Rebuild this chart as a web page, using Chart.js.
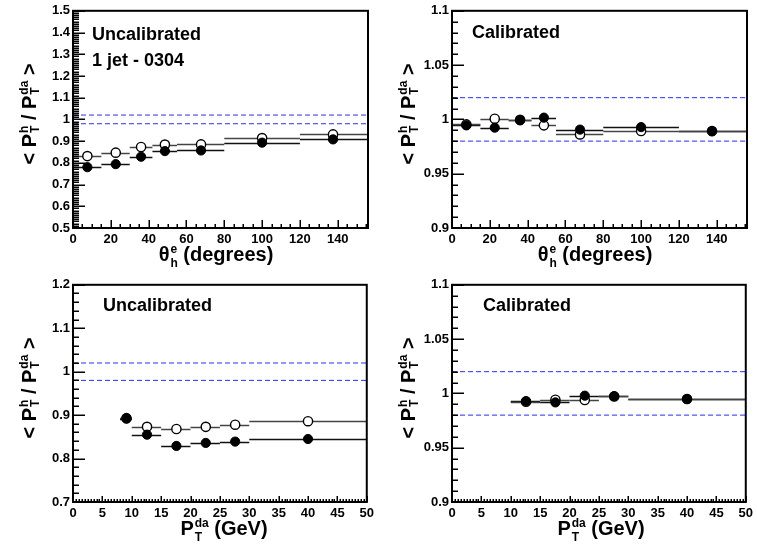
<!DOCTYPE html>
<html lang="en">
<head>
<meta charset="UTF-8">
<title>Transverse momentum balance</title>
<script src="https://cdn.jsdelivr.net/npm/chart.js"></script>
<style>
  body { margin: 0; background: #fff; }
  #wrap { position: relative; width: 757px; height: 548px; }
  .panel { position: absolute; width: 378px; height: 274px; }
</style>
</head>
<body>
<div id="wrap">
  <div class="panel" style="left:0;top:0"><canvas id="c1" width="378" height="274"></canvas></div>
  <div class="panel" style="left:379px;top:0"><canvas id="c2" width="378" height="274"></canvas></div>
  <div class="panel" style="left:0;top:274px"><canvas id="c3" width="378" height="274"></canvas></div>
  <div class="panel" style="left:379px;top:274px"><canvas id="c4" width="378" height="274"></canvas></div>
</div>
<script>
  // theta bins (degrees)
  const thetaLo  = [0, 15, 30, 42, 55, 80, 120];
  const thetaHi  = [15, 30, 42, 55, 80, 120, 156];
  const thetaMid = [7.6, 22.6, 36, 48.6, 67.7, 100, 137.5];
  const uncalThetaFull = [0.780, 0.794, 0.828, 0.854, 0.857, 0.893, 0.908];
  const uncalThetaOpen = [0.831, 0.847, 0.873, 0.884, 0.885, 0.914, 0.931];
  const calThetaFull   = [0.9945, 0.9924, 0.9991, 1.0016, 0.9906, 0.9929, 0.9890];
  const calThetaOpen   = [0.9954, 1.0006, 0.9997, 0.9945, 0.9862, 0.9893, 0.9893];

  // pt bins (GeV)
  const ptLo  = [8, 10, 15, 20, 25, 30];
  const ptHi  = [10, 15, 20, 25, 30, 50];
  const ptMid = [9.1, 12.6, 17.6, 22.6, 27.6, 40];
  const uncalPtFull = [0.892, 0.855, 0.829, 0.836, 0.839, 0.845];
  const uncalPtOpen = [0.893, 0.873, 0.868, 0.873, 0.878, 0.886];
  const calPtFull   = [null, 0.9929, 0.9917, 0.9979, 0.9975, 0.9948];
  const calPtOpen   = [null, 0.9923, 0.9942, 0.9939, 0.9972, 0.9948];

  const bandLines = [1.02, 0.98];

  const FONT = '"Liberation Sans", Arial, Helvetica, sans-serif';
  const yTitle = ['< P', ['h', 'T'], ' / P', ['da', 'T'], ' >'];
  const thetaTitle = ['\u03b8', ['e', 'h'], ' (degrees)'];
  const ptTitle = ['P', ['da', 'T'], ' (GeV)'];

  function points(mid, lo, hi, vals) {
    return vals.map((v, i) => v == null ? null : { x: mid[i], y: v, xMin: lo[i], xMax: hi[i] })
               .filter(p => p);
  }

  // horizontal bin-width bars, under the markers
  const hBars = {
    id: 'hBars',
    beforeDatasetsDraw(chart) {
      const { ctx, scales: { x, y } } = chart;
      ctx.save();
      ctx.lineWidth = 1.5;
      chart.data.datasets.forEach(ds => {
        if (!ds.bins) return;
        ctx.strokeStyle = ds.barColor;
        ds.data.forEach(p => {
          const py = Math.round(y.getPixelForValue(p.y)) + 0.5;
          ctx.beginPath();
          ctx.moveTo(x.getPixelForValue(p.xMin), py);
          ctx.lineTo(x.getPixelForValue(p.xMax), py);
          ctx.stroke();
        });
      });
      ctx.restore();
    }
  };

  function drawRich(ctx, parts, cx, base, size, supOff, subOff) {
    const small = Math.round(size * 0.62);
    const main = 'bold ' + size + 'px ' + FONT;
    const scr = 'bold ' + small + 'px ' + FONT;
    const widths = parts.map(p => {
      if (typeof p === 'string') { ctx.font = main; return ctx.measureText(p).width; }
      ctx.font = scr;
      return Math.max(ctx.measureText(p[0]).width, ctx.measureText(p[1]).width) + 1;
    });
    let xx = cx - widths.reduce((a, b) => a + b, 0) / 2;
    ctx.textAlign = 'left';
    ctx.textBaseline = 'alphabetic';
    parts.forEach((p, i) => {
      if (typeof p === 'string') {
        ctx.font = main;
        ctx.fillText(p, xx, base);
      } else {
        ctx.font = scr;
        ctx.fillText(p[0], xx + 1, base - supOff);
        ctx.fillText(p[1], xx + 1, base + subOff);
      }
      xx += widths[i];
    });
  }

  // ROOT style frame, inward ticks, titles and notes
  function makeDeco(cfg) {
    return {
      id: 'deco',
      afterDraw(chart) {
        const { ctx, chartArea: a, scales: { x, y } } = chart;
        ctx.save();
        ctx.strokeStyle = '#000';
        ctx.lineWidth = 1.5;
        const nx = Math.round((cfg.xMax - cfg.xMin) / cfg.xMinor);
        for (let i = 0; i <= nx; i++) {
          const v = cfg.xMin + i * cfg.xMinor;
          const r = v / cfg.xStep;
          const len = Math.abs(r - Math.round(r)) < 1e-6 ? cfg.xTick[0] : cfg.xTick[1];
          const px = Math.round(x.getPixelForValue(v)) + 0.25;
          ctx.beginPath(); ctx.moveTo(px, a.bottom); ctx.lineTo(px, a.bottom - len); ctx.stroke();
        }
        const ny = Math.round((cfg.yMax - cfg.yMin) / cfg.yMinor);
        for (let i = 0; i <= ny; i++) {
          const v = cfg.yMin + i * cfg.yMinor;
          const r = v / cfg.yStep;
          const len = Math.abs(r - Math.round(r)) < 1e-6 ? 12 : 6;
          const py = Math.round(y.getPixelForValue(v)) + 0.25;
          ctx.beginPath(); ctx.moveTo(a.left, py); ctx.lineTo(a.left + len, py); ctx.stroke();
        }
        ctx.lineWidth = 2;
        ctx.strokeRect(a.left, a.top, a.right - a.left, a.bottom - a.top);

        ctx.fillStyle = '#000';
        ctx.font = 'bold 18px ' + FONT;
        ctx.textAlign = 'left';
        cfg.notes.forEach(n => ctx.fillText(n.text, n.x, n.y));

        drawRich(ctx, cfg.xTitle, cfg.xTitleX, 261, 20, 8, 6);
        ctx.translate(36, 114);
        ctx.rotate(-Math.PI / 2);
        drawRich(ctx, yTitle, 0, 0, 20, 8, 3);
        ctx.restore();
      }
    };
  }

  function makePanel(id, cfg) {
    const tickFont = { family: FONT, size: 13, weight: 'bold' };
    const datasets = [
      { label: 'full', data: points(cfg.mid, cfg.lo, cfg.hi, cfg.full), bins: true, barColor: '#111',
        backgroundColor: '#000', borderColor: '#000', borderWidth: 1, pointRadius: 4.6 },
      { label: 'open', data: points(cfg.mid, cfg.lo, cfg.hi, cfg.open), bins: true, barColor: '#444',
        backgroundColor: '#fff', borderColor: '#000', borderWidth: 1.4, pointRadius: 4.6 }
    ];
    bandLines.forEach(v => datasets.push({
      type: 'line', data: [{ x: cfg.xMin, y: v }, { x: cfg.xMax, y: v }],
      borderColor: '#2a2aff', borderWidth: 1, borderDash: [5, 3], pointRadius: 0, showLine: true
    }));

    new Chart(document.getElementById(id), {
      type: 'scatter',
      data: { datasets: datasets },
      options: {
        responsive: false,
        animation: false,
        devicePixelRatio: 1,
        layout: { padding: { top: 10, right: 10, left: 0, bottom: 0 } },
        plugins: {
          legend: { display: false },
          tooltip: { enabled: false }
        },
        scales: {
          x: {
            type: 'linear', min: cfg.xMin, max: cfg.xMax,
            afterFit: s => { s.height = 46; },
            grid: { display: false, drawTicks: false },
            border: { display: false },
            ticks: { stepSize: cfg.xStep, includeBounds: false, autoSkip: false, maxRotation: 0,
                     padding: 4, font: tickFont, color: '#000',
                     callback: v => String(Math.round(v)) }
          },
          y: {
            min: cfg.yMin, max: cfg.yMax,
            afterFit: s => { s.width = 73; },
            grid: { display: false, drawTicks: false },
            border: { display: false },
            ticks: { stepSize: cfg.yStep, includeBounds: false, autoSkip: false,
                     padding: 3, font: tickFont, color: '#000',
                     callback: v => String(Math.round(v * 1000) / 1000) }
          }
        }
      },
      plugins: [hBars, makeDeco(cfg)]
    });
  }

  makePanel('c1', {
    lo: thetaLo, hi: thetaHi, mid: thetaMid, full: uncalThetaFull, open: uncalThetaOpen,
    xMin: 0, xMax: 156, xStep: 20, xMinor: 5, xTick: [8, 4],
    yMin: 0.5, yMax: 1.5, yStep: 0.1, yMinor: 0.01,
    xTitle: thetaTitle, xTitleX: 216,
    notes: [{ text: 'Uncalibrated', x: 92, y: 40 }, { text: '1 jet - 0304', x: 92, y: 66 }]
  });
  makePanel('c2', {
    lo: thetaLo, hi: thetaHi, mid: thetaMid, full: calThetaFull, open: calThetaOpen,
    xMin: 0, xMax: 156, xStep: 20, xMinor: 5, xTick: [8, 4],
    yMin: 0.9, yMax: 1.1, yStep: 0.05, yMinor: 0.01,
    xTitle: thetaTitle, xTitleX: 216,
    notes: [{ text: 'Calibrated', x: 93, y: 38 }]
  });
  makePanel('c3', {
    lo: ptLo, hi: ptHi, mid: ptMid, full: uncalPtFull, open: uncalPtOpen,
    xMin: 0, xMax: 50, xStep: 5, xMinor: 0.5, xTick: [6, 3],
    yMin: 0.7, yMax: 1.2, yStep: 0.1, yMinor: 0.02,
    xTitle: ptTitle, xTitleX: 224,
    notes: [{ text: 'Uncalibrated', x: 103, y: 37 }]
  });
  makePanel('c4', {
    lo: ptLo, hi: ptHi, mid: ptMid, full: calPtFull, open: calPtOpen,
    xMin: 0, xMax: 50, xStep: 5, xMinor: 0.5, xTick: [6, 3],
    yMin: 0.9, yMax: 1.1, yStep: 0.05, yMinor: 0.01,
    xTitle: ptTitle, xTitleX: 222,
    notes: [{ text: 'Calibrated', x: 104, y: 37 }]
  });
</script>
</body>
</html>
